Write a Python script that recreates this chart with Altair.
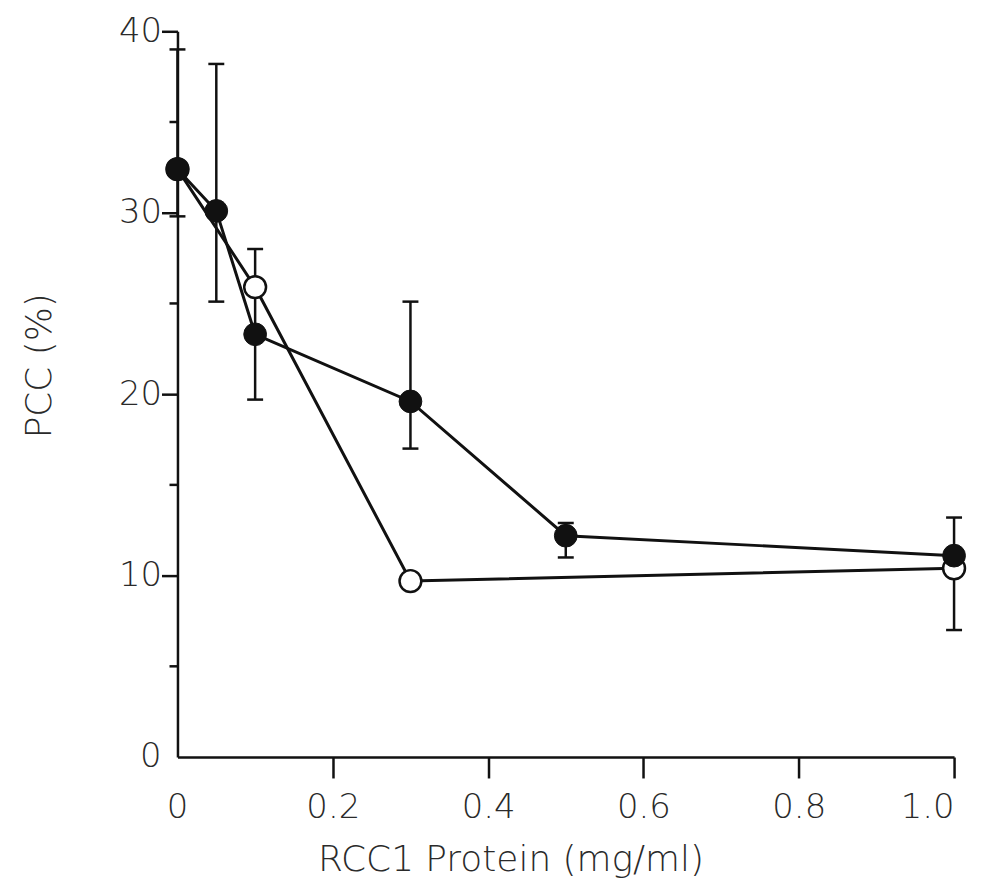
import altair as alt
import pandas as pd

# Filled-circle series
x_filled = [0, 0.05, 0.1, 0.3, 0.5, 1.0]
y_filled = [32.4, 30.1, 23.3, 19.6, 12.2, 11.1]
err_lo = [29.8, 25.1, 19.7, 17.0, 11.0, 7.0]
err_hi = [39.0, 38.2, 28.0, 25.1, 12.9, 13.2]

# Open-circle series
x_open = [0, 0.1, 0.3, 1.0]
y_open = [32.4, 25.9, 9.7, 10.4]

x_major = [0.2, 0.4, 0.6, 0.8, 1.0]
y_major = [10, 20, 30, 40]
y_minor = [5, 15, 25, 35]
zero_label = ["0"]

filled = pd.DataFrame({"x": x_filled, "y": y_filled, "lo": err_lo, "hi": err_hi})
opened = pd.DataFrame({"x": x_open, "y": y_open})
minor = pd.DataFrame({"y": y_minor})
zero = pd.DataFrame({"v": [0], "t": zero_label})

FONT = "DejaVu Sans"
FW = 200
INK = "#111111"
TXT = "#2a2a2a"
FS = 34

W, H = 779, 728

xs = alt.Scale(domain=[0, 1.0], nice=False, zero=False)
ys = alt.Scale(domain=[0, 40], nice=False)

x_axis = alt.Axis(
    values=x_major,
    format=".1f",
    title="RCC1 Protein (mg/ml)",
    grid=False,
    domainColor=INK, domainWidth=2.5,
    tickColor=INK, tickWidth=2.5, tickSize=21,
    labelFont=FONT, labelFontWeight=FW, labelFontSize=FS, labelColor=TXT, labelPadding=13,
    titleFont=FONT, titleFontWeight=FW, titleFontSize=36, titleColor=TXT,
    titlePadding=18, titleX=334, titleAlign="center",
)
y_axis = alt.Axis(
    values=y_major,
    title="PCC (%)",
    grid=False,
    domainColor=INK, domainWidth=2.5,
    tickColor=INK, tickWidth=2.5, tickSize=16,
    labelFont=FONT, labelFontWeight=FW, labelFontSize=FS, labelColor=TXT, labelPadding=0,
    titleFont=FONT, titleFontWeight=FW, titleFontSize=36, titleColor=TXT,
    titlePadding=60, titleY=335, titleAlign="center",
)

base_f = alt.Chart(filled)
base_o = alt.Chart(opened)

err_rule = base_f.mark_rule(color=INK, strokeWidth=2.5).encode(
    x=alt.X("x:Q", scale=xs, axis=x_axis),
    y=alt.Y("lo:Q", scale=ys, axis=y_axis),
    y2="hi:Q",
)
cap_lo = base_f.mark_tick(color=INK, thickness=2.5, size=16, orient="horizontal", opacity=1).encode(
    x=alt.X("x:Q", scale=xs), y=alt.Y("lo:Q", scale=ys)
)
cap_hi = base_f.mark_tick(color=INK, thickness=2.5, size=16, orient="horizontal", opacity=1).encode(
    x=alt.X("x:Q", scale=xs), y=alt.Y("hi:Q", scale=ys)
)
minor_ticks = alt.Chart(minor).mark_rule(color=INK, strokeWidth=2.5).encode(
    y=alt.Y("y:Q", scale=ys), x=alt.value(-8), x2=alt.value(0)
)
zero_y = alt.Chart(zero).mark_text(font=FONT, fontWeight=FW, fontSize=FS, color=TXT,
                                   align="right", baseline="middle", dx=-16).encode(
    y=alt.Y("v:Q", scale=ys), x=alt.value(0), text="t:N"
)
zero_x = alt.Chart(zero).mark_text(font=FONT, fontWeight=FW, fontSize=FS, color=TXT,
                                   align="center", baseline="top", dy=34).encode(
    x=alt.X("v:Q", scale=xs), y=alt.value(H), text="t:N"
)
line_o = base_o.mark_line(color=INK, strokeWidth=3).encode(
    x=alt.X("x:Q", scale=xs), y=alt.Y("y:Q", scale=ys)
)
line_f = base_f.mark_line(color=INK, strokeWidth=3).encode(
    x=alt.X("x:Q", scale=xs), y=alt.Y("y:Q", scale=ys)
)
pts_o = base_o.mark_point(shape="circle", filled=True, fill="white", stroke=INK,
                          strokeWidth=2.5, size=480, opacity=1).encode(
    x=alt.X("x:Q", scale=xs), y=alt.Y("y:Q", scale=ys)
)
pts_f = base_f.mark_point(shape="circle", filled=True, fill=INK, stroke=INK,
                          strokeWidth=1, size=520, opacity=1).encode(
    x=alt.X("x:Q", scale=xs), y=alt.Y("y:Q", scale=ys)
)

chart = alt.layer(err_rule, cap_lo, cap_hi, minor_ticks, zero_y, zero_x,
                  line_o, line_f, pts_o, pts_f).properties(
    width=W, height=H,
    autosize=alt.AutoSizeParams(type="none"),
    padding={"left": 170, "top": 22, "right": 20, "bottom": 128},
    background="white",
).configure_view(stroke=None)

chart.save("out.html", embed_options={"renderer": "svg", "actions": False})
